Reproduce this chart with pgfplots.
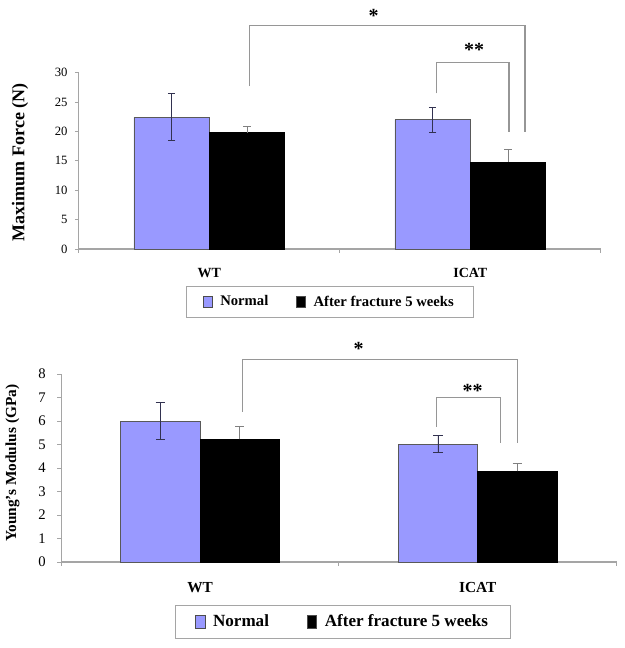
\documentclass[border=0pt]{standalone}
\usepackage{pgfplots}
\pgfplotsset{compat=1.18}
\usepackage{fontspec}
\setmainfont{Liberation Serif}

\definecolor{normalblue}{RGB}{153,153,255}
\definecolor{axisgray}{RGB}{165,165,165}
\definecolor{brgray}{RGB}{150,150,150}
\definecolor{errdark}{RGB}{50,50,80}

\pgfplotsset{
  barchart/.style={
    scale only axis, clip=false,
    ybar,
    xmin=0.5, xmax=2.5, ymin=0,
    axis lines*=left,
    axis line style={axisgray, line width=0.8pt},
    tick style={axisgray, line width=0.6pt},
    tick align=outside,
    major tick length=3pt,
    xtick={0.5,1.5,2.5}, xticklabels={},
    extra x ticks={1,2},
    extra x tick labels={\textbf{WT},\textbf{ICAT}},
    extra x tick style={major tick length=0pt},
    /pgf/number format/assume math mode=true,
    legend style={draw=axisgray, line width=0.6pt, legend columns=2,
      anchor=north west, inner ysep=5pt,
      /tikz/every odd column/.append style={column sep=4pt}},
  },
  normalbar/.style={fill=normalblue, draw=black!65, line width=0.5pt,
    error bars/y dir=both, error bars/y explicit,
    error bars/error bar style={errdark, line width=0.6pt},
    error bars/error mark options={rotate=90, mark size=#1, errdark, line width=0.6pt}},
  blackbar/.style={fill=black, draw=black, line width=0.5pt,
    error bars/y dir=plus, error bars/y explicit,
    error bars/error bar style={black!50, line width=0.6pt},
    error bars/error mark options={rotate=90, mark size=#1, black!50, line width=0.6pt}},
}

\begin{document}
\begin{tikzpicture}
\path[use as bounding box] (0,0) rectangle (468pt,486pt);

% Maximum force
\begin{axis}[barchart,
  at={(59.1pt,299.25pt)}, anchor=south west,
  width=391.5pt, height=132.2pt,
  ymax=30, ytick={0,5,...,30},
  bar width=0.289,
  yticklabel style={font=\fontsize{9.5}{11}\selectfont, xshift=-2pt},
  xticklabel style={font=\fontsize{10.5}{12}\selectfont, yshift=-11pt},
  ylabel={\textbf{Maximum Force (N)}},
  ylabel style={at={(axis description cs:-0.1126,0.492)}, anchor=center,
    font=\fontsize{13.5}{16}\selectfont},
  legend style={at={(0.2054,-0.21)}, inner xsep=12.5pt,
    font=\bfseries\fontsize{11}{13}\selectfont,
    /tikz/every even column/.append style={column sep=19pt}},
  legend image code/.code={\draw[#1, draw=black!70, line width=0.4pt]
    (0pt,-4pt) rectangle (6.5pt,4pt);},
]
\addplot[bar shift=-0.1445, normalbar=2.75pt]
  coordinates {(1,22.4) +- (0,4.0) (2,22.0) +- (0,2.1)};
\addlegendentry{Normal}
\addplot[bar shift=0.1445, blackbar=2.75pt]
  coordinates {(1,19.8) +- (0,1.1) (2,14.8) +- (0,2.2)};
\addlegendentry{After fracture 5 weeks}

\draw[brgray, line width=1pt] (1.155,27.7) -- (1.155,38.0) -- (2.21,38.0) -- (2.21,19.9);
\draw[brgray, line width=1pt] (1.871,26.5) -- (1.871,31.7) -- (2.148,31.7) -- (2.148,19.9);
\node[font=\bfseries\fontsize{15}{17}\selectfont, yshift=-2pt] at (1.63,40.1) {*};
\node[font=\bfseries\fontsize{15}{17}\selectfont, yshift=-2pt] at (2.015,34.4) {**};
\end{axis}

% Young's modulus
\begin{axis}[barchart,
  at={(45.9pt,64.5pt)}, anchor=south west,
  width=416.5pt, height=141pt,
  ymax=8, ytick={0,1,...,8},
  bar width=0.286,
  yticklabel style={font=\fontsize{11}{13}\selectfont, xshift=-5pt},
  xticklabel style={font=\fontsize{11.5}{13}\selectfont, yshift=-12pt},
  ylabel={\textbf{Young's Modulus (GPa)}},
  ylabel style={at={(axis description cs:-0.0877,0.525)}, anchor=center,
    font=\fontsize{11.5}{14}\selectfont},
  legend style={at={(0.2058,-0.229)}, inner xsep=14.5pt,
    font=\bfseries\fontsize{12.8}{15}\selectfont,
    /tikz/every even column/.append style={column sep=26.5pt}},
  legend image code/.code={\draw[#1, draw=black!70, line width=0.4pt]
    (0pt,-5pt) rectangle (7pt,5pt);},
]
\addplot[bar shift=-0.143, normalbar=3.5pt]
  coordinates {(1,6.0) +- (0,0.78) (2,5.02) +- (0,0.37)};
\addlegendentry{Normal}
\addplot[bar shift=0.143, blackbar=3.5pt]
  coordinates {(1,5.22) +- (0,0.53) (2,3.86) +- (0,0.32)};
\addlegendentry{After fracture 5 weeks}

\draw[brgray, line width=1pt] (1.152,6.40) -- (1.152,8.63) -- (2.144,8.63) -- (2.144,5.05);
\draw[brgray, line width=1pt] (1.852,5.76) -- (1.852,7.01) -- (2.082,7.01) -- (2.082,5.08);
\node[font=\bfseries\fontsize{15}{17}\selectfont, yshift=-2pt] at (1.571,9.19) {*};
\node[font=\bfseries\fontsize{15}{17}\selectfont, yshift=-2pt] at (1.982,7.39) {**};
\end{axis}
\end{tikzpicture}
\end{document}
